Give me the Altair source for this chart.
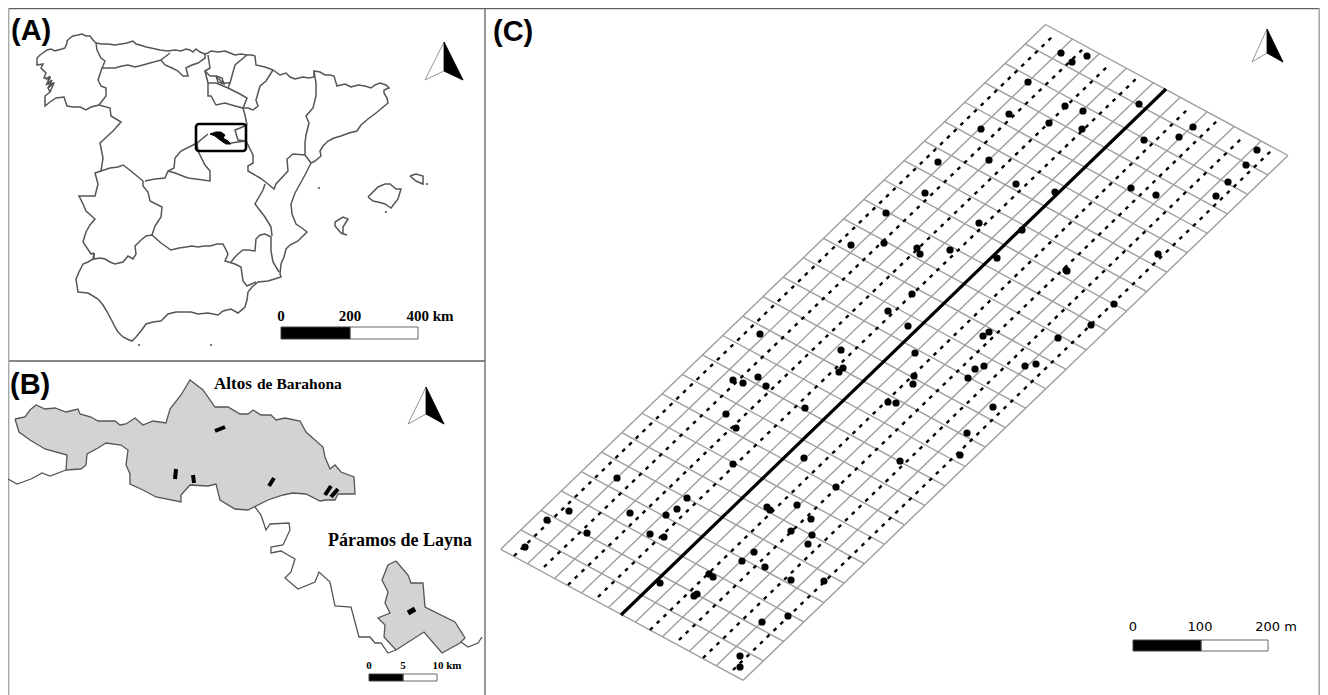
import altair as alt
import pandas as pd

# ---------- Panel A: Spain outlines ----------
GALICIA = [(37,58),(40,55),(43,53),(47,50),(51,49),(55,51),(58,50),(62,49),(65,48),(67,43),(67,41),(70,38),(73,36),(78,35),(82,34),(86,36),(90,36),(93,40),(96,43),(97,50),(101,58),(105,61),(103,66),(102,68),(98,80),(101,86),(106,88),(106,96),(99,105),(91,107),(86,110),(80,107),(73,107),(67,106),(64,97),(56,98),(50,102),(45,106),(45,96),(50,92),(48,88),(53,83),(47,84),(50,78),(44,78),(46,73),(41,68),(43,64),(37,65),(37,58)]
RIAS = [(46,80),(50,76),(47,84),(52,80),(48,88),(54,83),(50,92)]
NORTH_COAST = [(96,43),(102,44),(108,44),(115,45),(121,44),(127,43),(133,41),(136,44),(140,45),(146,47),(151,48),(160,50),(168,51),(175,50),(181,51),(186,49),(190,50),(193,52),(196,49),(200,52),(205,54),(208,53),(211,51),(218,52),(225,51),(230,53),(235,55),(241,54),(247,55),(252,55),(255,56),(256,65),(265,67),(273,70)]
PYRENEES_EAST_COAST = [(273,70),(280,75),(286,73),(290,77),(295,79),(299,78),(303,77),(309,78),(314,77),(314,71),(320,72),(325,75),(330,75),(334,76),(337,86),(341,85),(345,84),(351,87),(358,85),(365,86),(371,88),(375,85),(380,83),(386,85),(389,88),(384,90),(384,93),(387,98),(388,103),(376,113),(368,119),(361,125),(357,131),(349,133),(341,136),(334,138),(328,141),(323,146),(320,151),(321,156),(315,161),(311,163),(306,173),(300,184),(295,193),(291,204),(292,214),(296,224),(302,228),(307,232),(298,241),(290,245),(286,249),(284,257),(281,264),(280,274),(281,277),(268,281),(258,282),(252,287),(248,292),(247,300),(245,307),(238,313),(231,309),(223,311),(218,315),(208,313),(198,314),(191,312),(185,312),(176,312),(168,314),(161,321),(153,322),(146,324),(141,331),(136,337),(132,341),(127,339),(123,337),(118,332),(115,327),(111,319),(106,310),(103,305),(98,299),(88,293),(78,292),(76,279),(79,272),(83,264),(88,262),(93,259),(94,253)]
ANDALUSIA_N = [(94,253),(94,259),(100,258),(105,259),(110,262),(115,264),(123,262),(128,256),(133,259),(136,254),(135,246),(140,241),(146,236),(152,235),(161,243),(171,250),(179,248),(186,247),(192,246),(198,247),(204,246),(210,246),(217,244),(223,244),(228,254),(225,261),(235,264),(241,267),(243,281),(247,286),(256,282)]
MURCIA_N = [(231,262),(235,257),(238,254),(243,250),(248,250),(255,251),(256,239),(260,235),(265,234),(271,237),(271,251),(273,262),(279,272)]
EXTREMADURA = [(152,235),(155,226),(161,217),(162,207),(150,201),(148,192),(143,186),(143,181),(137,176),(131,171),(123,165),(118,167),(110,168),(101,171),(95,173),(98,184),(95,196),(87,196),(79,196),(83,204),(86,211),(95,219),(90,225),(86,232),(83,242),(91,254),(94,253)]
CYL_WEST = [(99,105),(110,108),(111,116),(121,122),(113,131),(100,143),(103,158),(101,171)]
ASTURIAS_S = [(102,68),(115,68),(122,66),(128,65),(135,67),(143,65),(150,63),(161,60),(165,65),(172,68),(178,71),(183,76),(188,76),(186,68),(192,65),(198,63),(205,58),(205,54)]
CANTABRIA = [(170,53),(161,60)]
BASQUE = [(208,55),(210,68),(205,71),(210,76),(216,76),(223,83),(230,83),(235,65),(247,55)]
TREVINO = [(216,76),(222,78),(224,84),(218,82),(216,76)]
RIOJA = [(208,83),(208,96),(211,96),(216,105),(225,103),(235,106),(243,108),(247,98),(240,94),(228,88),(216,83),(208,83)]
RIOJA_LINK = [(205,71),(208,83)]
NAVARRA_E = [(230,83),(228,88)]
NAVARRA_S = [(273,70),(266,81),(260,86),(256,100),(258,106),(253,110),(248,108),(243,108)]
ARAGON_W = [(243,108),(245,115),(247,125),(240,128),(235,130),(238,140),(246,141),(253,155),(253,163),(248,166),(248,171),(260,178),(268,184),(274,189),(276,184),(288,171),(287,159),(293,154),(305,155),(311,163)]
ARAGON_E = [(314,71),(316,83),(316,96),(313,108),(306,116),(309,123),(306,135),(305,143),(305,155)]
VALENCIA_W = [(265,184),(263,190),(255,204),(265,217),(271,227),(272,236)]
CYL_SOUTH = [(208,134),(197,143),(181,151),(175,158),(174,168),(168,171),(165,178),(155,179),(145,181)]
MADRID = [(197,143),(198,151),(205,165),(210,171),(210,181),(188,178),(175,173),(168,171)]
BOX_LINE = [(231,143),(238,142),(246,141)]
MALLORCA = [(368,197),(378,187),(385,184),(390,184),(396,189),(401,189),(398,199),(391,208),(385,204),(378,202),(373,201),(368,197)]
MENORCA = [(410,176),(416,174),(423,176),(423,184),(416,181),(410,176)]
IBIZA = [(335,222),(343,217),(348,219),(343,227),(343,234),(347,235),(341,233),(335,226),(335,222)]
A_LINES = [GALICIA,RIAS,NORTH_COAST,PYRENEES_EAST_COAST,ANDALUSIA_N,MURCIA_N,EXTREMADURA,CYL_WEST,ASTURIAS_S,CANTABRIA,BASQUE,TREVINO,RIOJA,RIOJA_LINK,NAVARRA_E,NAVARRA_S,ARAGON_W,ARAGON_E,VALENCIA_W,CYL_SOUTH,MADRID,BOX_LINE,MALLORCA,MENORCA,IBIZA]
A_TINY = [(386,212),(139,345),(211,345),(319,188),(427,184)]
A_BLOB = [(210,134),(216,132),(221,132),(225,135),(223,138),(228,141),(231,144),(226,144),(220,140),(215,136),(210,134)]
A_BOX = [(196,124,246,151)]

# ---------- Panel B ----------
ALTOS = [(15,419),(25,417),(30,410),(36,405),(45,409),(55,408),(66,412),(78,409),(80,414),(91,417),(98,421),(115,421),(120,425),(126,424),(135,418),(143,425),(153,421),(166,423),(170,409),(181,395),(190,380),(203,390),(215,407),(228,407),(240,414),(248,414),(253,410),(261,415),(271,415),(276,420),(285,418),(300,421),(306,432),(323,447),(325,457),(330,469),(335,465),(341,472),(354,477),(355,494),(338,494),(335,500),(326,500),(320,501),(306,494),(293,493),(283,495),(268,500),(248,510),(235,509),(220,500),(216,484),(208,486),(190,485),(181,495),(181,502),(156,497),(143,490),(130,484),(130,474),(126,465),(128,450),(121,445),(106,443),(98,448),(87,454),(86,465),(81,469),(66,470),(67,455),(45,449),(30,440),(19,432),(15,419)]
LAYNA = [(396,561),(388,565),(382,580),(388,592),(385,603),(390,613),(378,618),(385,625),(384,637),(396,650),(424,632),(442,653),(460,643),(465,638),(455,622),(425,607),(423,583),(411,583),(408,575),(396,561)]
B_WEST = [(8,479),(17,484),(31,479),(42,473),(50,476),(66,470)]
B_SOUTH = [(255,507),(261,515),(266,530),(270,524),(289,523),(290,530),(283,545),(271,547),(271,553),(281,551),(295,559),(291,572),(285,578),(298,589),(315,582),(319,572),(330,582),(335,606),(351,607),(359,637),(370,637),(375,643),(381,643),(388,653),(396,650)]
B_TAIL = [(461,642),(468,647),(478,643),(482,637)]
B_BARS = [[(215,431),(225,427)],[(176,469),(175,479)],[(193,475),(194,483)],[(274,478),(269,486)],[(331,486),(325,495)],[(338,489),(331,497)]]
B_BAR_WIDE = [[(415,609),(408,613)]]

# ---------- Panel C ----------
GRID_TOP = (1045.5,24.5)
GRID_RIGHT = (1288,155.5)
GRID_LEFT = (500.7,549.3)
GRID_ACROSS = 9
GRID_ROWS = 27
THICK = [(621,615),(1166,89)]
DOT_LINES = [[(514,556),(1054,35)],[(544,567),(1085,47)],[(568,585),(1110,64)],[(598,597),(1139,76)],[(650,630),(1189,108)],[(679,640),(1219,119)],[(703,658),(1243,137)],[(733,670),(1273,149)]]
SITES = [(1061,53),(1072,62),(1087,56),(1028,82),(1139,104),(1065,106),(1083,111),(1009,114),(1049,123),(1082,129),(981,129),(1193,127),(1179,137),(1144,140),(1257,150),(1246,165),(1228,182),(1216,196),(1156,195),(1131,188),(1055,192),(1016,184),(938,162),(989,160),(925,193),(886,213),(851,245),(884,243),(917,248),(920,254),(950,250),(979,223),(1022,230),(997,258),(1158,254),(1066,270),(1067,271),(912,294),(1114,304),(888,311),(908,326),(1091,325),(760,334),(841,350),(915,353),(843,368),(839,372),(989,332),(983,336),(1058,338),(1036,364),(1025,366),(984,366),(975,369),(968,378),(914,376),(913,384),(733,380),(743,383),(758,377),(766,386),(726,414),(736,428),(805,408),(888,402),(896,403),(993,407),(967,433),(960,455),(900,461),(804,458),(733,464),(836,487),(767,507),(770,510),(797,505),(811,519),(791,531),(812,535),(808,544),(754,552),(742,561),(765,567),(791,580),(824,581),(709,574),(713,577),(617,478),(525,547),(547,520),(569,511),(587,533),(630,513),(650,534),(664,537),(666,515),(677,509),(687,498),(660,583),(694,596),(697,594),(762,622),(788,616),(740,656),(740,667)]

# ---------- Frame, north arrows, scale bars, labels ----------
FRAME_DARK = [[(8,8.6),(1320,8.6)],[(8,361),(485,361)],[(485,8),(485,695)]]
FRAME_LIGHT = [[(1319.2,8),(1319.2,695)],[(8.6,8),(8.6,695)]]
ARROWS = [[(444,42),(463,80),(444,71),(425,80)],[(426,387),(444,424),(426,414),(408,424)],[(1267,29),(1283,62),(1267,53),(1252,62)]]
BARS_BLACK = [(281,327,350,339),(369,674,403,681),(1133,640,1201,651)]
BARS_WHITE = [(350,327,418,339),(403,674,437,681),(1201,640,1268,651)]
PANEL_LABELS = [("(A)",11,40),("(B)",10,394),("(C)",493,41)]
SCALE_A = [("0",281,321),("200",350,321),("400 km",430,321)]
SCALE_B = [("0",369,669),("5",403,669),("10 km",447,669)]
SCALE_C = [("0",1133,631),("100",1200,631),("200 m",1276,631)]
PLACE_BIG = [("Altos",214,389)]
PLACE_SMALL = [("de Barahona",257,389)]
PLACE_LAYNA = [("Páramos de Layna",328,546)]


def lines_df(lines):
    return pd.DataFrame([{"id": i, "o": j, "x": p[0], "y": p[1]}
                         for i, l in enumerate(lines) for j, p in enumerate(l)])


def rect_df(rows):
    return pd.DataFrame(rows, columns=["x", "y", "x2", "y2"])


def text_df(rows):
    return pd.DataFrame(rows, columns=["t", "x", "y"])


sx = alt.Scale(domain=[8, 1320], range=[0, 1312], nice=False, zero=False)
sy = alt.Scale(domain=[8, 695], range=[0, 687], nice=False, zero=False)
X = alt.X("x:Q", scale=sx, axis=None)
Y = alt.Y("y:Q", scale=sy, axis=None)


def line_layer(lines, **mk):
    return alt.Chart(lines_df(lines)).mark_line(**mk).encode(
        x=X, y=Y, detail="id:N", order="o:Q")


def rect_layer(rows, **mk):
    return alt.Chart(rect_df(rows)).mark_rect(**mk).encode(
        x=X, y=Y, x2="x2:Q", y2="y2:Q")


def text_layer(rows, **mk):
    return alt.Chart(text_df(rows)).mark_text(baseline="alphabetic", **mk).encode(
        x=X, y=Y, text="t:N")


# grid of panel C
ax, ay = GRID_RIGHT[0] - GRID_TOP[0], GRID_RIGHT[1] - GRID_TOP[1]
bx, by = GRID_LEFT[0] - GRID_TOP[0], GRID_LEFT[1] - GRID_TOP[1]
grid = []
for i in range(GRID_ACROSS + 1):
    f = i / GRID_ACROSS
    grid.append([(GRID_TOP[0] + ax * f, GRID_TOP[1] + ay * f),
                 (GRID_TOP[0] + ax * f + bx, GRID_TOP[1] + ay * f + by)])
for i in range(GRID_ROWS + 1):
    f = i / GRID_ROWS
    grid.append([(GRID_TOP[0] + bx * f, GRID_TOP[1] + by * f),
                 (GRID_TOP[0] + bx * f + ax, GRID_TOP[1] + by * f + ay)])

GREY = "#555555"
serif = "Liberation Serif"
layers = [
    line_layer(FRAME_DARK, stroke="#5f5f5f", strokeWidth=1.3),
    line_layer(FRAME_LIGHT, stroke="#a8a8a8", strokeWidth=1.6),
    # Panel A
    line_layer(A_LINES, stroke=GREY, strokeWidth=1.5),
    line_layer([A_BLOB], stroke="black", strokeWidth=1, fill="black"),
    rect_layer(A_BOX, fillOpacity=0, stroke="black", strokeWidth=2.6, cornerRadius=3),
    alt.Chart(lines_df([A_TINY])).mark_point(filled=True, color=GREY, size=5, opacity=1).encode(x=X, y=Y),
    # Panel B
    line_layer([ALTOS, LAYNA], stroke=GREY, strokeWidth=1.3, fill="#d3d3d3"),
    line_layer([B_WEST, B_SOUTH, B_TAIL], stroke=GREY, strokeWidth=1.3),
    line_layer(B_BARS, stroke="black", strokeWidth=4),
    line_layer(B_BAR_WIDE, stroke="black", strokeWidth=5),
    # Panel C
    line_layer(grid, stroke="#9e9e9e", strokeWidth=1.4),
    line_layer(DOT_LINES, stroke="black", strokeWidth=2.4, strokeDash=[3.8, 5.6]),
    line_layer([THICK], stroke="black", strokeWidth=3.2),
    alt.Chart(lines_df([SITES])).mark_point(filled=True, color="black", size=52, opacity=1).encode(x=X, y=Y),
    # North arrows
    line_layer([a + a[:1] for a in ARROWS], stroke="#8a8a8a", strokeWidth=0.9, fill="white"),
    line_layer([[a[0], a[1], a[2], a[0]] for a in ARROWS], stroke="black", strokeWidth=0.8, fill="black"),
    # Scale bars
    rect_layer(BARS_WHITE, fill="white", stroke="#666666", strokeWidth=1),
    rect_layer(BARS_BLACK, fill="black", stroke="#444444", strokeWidth=1),
    # Text
    text_layer(PANEL_LABELS, align="left", font="Liberation Sans", fontWeight="bold", fontSize=29, color="black"),
    text_layer(SCALE_A, align="center", font=serif, fontWeight="bold", fontSize=15, color="black"),
    text_layer(SCALE_B, align="center", font=serif, fontWeight="bold", fontSize=11, color="black"),
    text_layer(SCALE_C, align="center", font="DejaVu Sans", fontSize=13, color="black"),
    text_layer(PLACE_BIG, align="left", font=serif, fontWeight="bold", fontSize=17, color="black"),
    text_layer(PLACE_SMALL, align="left", font=serif, fontWeight="bold", fontSize=15.5, color="black"),
    text_layer(PLACE_LAYNA, align="left", font=serif, fontWeight="bold", fontSize=18, color="black"),
]

chart = alt.layer(*layers).properties(
    width=1312, height=687, padding=0, background="white",
    autosize=alt.AutoSizeParams(type="none"),
).configure_view(stroke=None)

chart.save("out.html", embed_options={"renderer": "svg", "actions": False})
